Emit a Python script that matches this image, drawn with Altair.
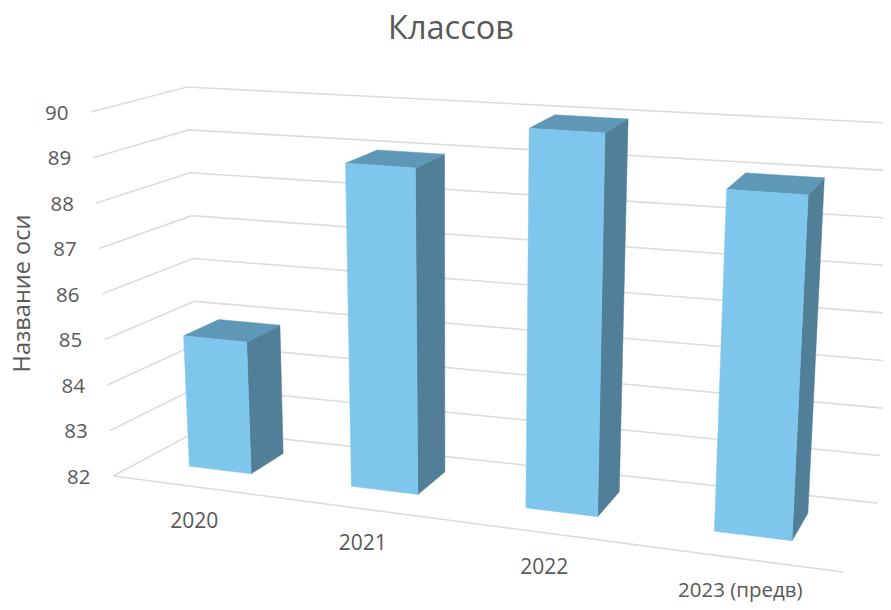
import altair as alt
import pandas as pd

title = "Классов"
axis_title = "Название оси"
categories = ["2020", "2021", "2022", "2023 (предв)"]
values = [84.9, 89, 90, 89]
ticks = [82, 83, 84, 85, 86, 87, 88, 89, 90]

V_MIN, V_MAX = 82, 90
GAP_SHARE = 0.61      # share of each category band left empty
DEPTH_FRONT, DEPTH_BACK = 0.34, 0.75  # bar extent along the depth axis
PERSP = 1.165

# Perspective camera: the 3D plot box, corners of (right, back, top)
BOX = {
    (0, 0, 0): (113, 476), (0, 0, 1): (91, 112),
    (0, 1, 0): (199, 430), (0, 1, 1): (187, 87),
    (1, 0, 0): (843, 572), (1, 0, 1): (865, 163),
    (1, 1, 0): (877, 503), (1, 1, 1): (899, 123.5),
}


def project(u, d, value):
    s = u / (PERSP + (1 - PERSP) * u)
    v = (value - V_MIN) / (V_MAX - V_MIN)
    out = [0.0, 0.0]
    for (a, b, c), p in BOX.items():
        w = (s if a else 1 - s) * (d if b else 1 - d) * (v if c else 1 - v)
        out[0] += w * p[0]
        out[1] += w * p[1]
    return out


def path_rows(rows, key, pts):
    for i, (u, d, val) in enumerate(pts):
        x, y = project(u, d, val)
        rows.append({"x": x, "y": y, "key": key, "i": i})


grid_rows = []
for t in ticks:
    path_rows(grid_rows, f"g{t}", [(0, 0, t), (0, 1, t), (1, 1, t)])
path_rows(grid_rows, "floor", [(0, 0, V_MIN), (1, 0, V_MIN)])

front, side, top = [], [], []
n = len(categories)
for idx, val in enumerate(values):
    u0 = (idx + GAP_SHARE / 2) / n
    u1 = (idx + 1 - GAP_SHARE / 2) / n
    d0, d1 = DEPTH_FRONT, DEPTH_BACK
    path_rows(front, idx, [(u0, d0, V_MIN), (u1, d0, V_MIN), (u1, d0, val), (u0, d0, val), (u0, d0, V_MIN)])
    path_rows(side, idx, [(u1, d0, V_MIN), (u1, d1, V_MIN), (u1, d1, val), (u1, d0, val), (u1, d0, V_MIN)])
    path_rows(top, idx, [(u0, d0, val), (u1, d0, val), (u1, d1, val), (u0, d1, val), (u0, d0, val)])

tick_rows = []
for t in ticks:
    x, y = project(0, 0, t)
    tick_rows.append({"x": x - 22.5, "y": y + 1.5, "label": str(t)})

cat_rows = []
for idx, c in enumerate(categories):
    x, y = project((idx + 0.5) / n, 0, V_MIN)
    cat_rows.append({"x": x + 1.5, "y": y + 35.5, "label": c})

X = alt.X("x:Q", scale=alt.Scale(domain=[8, 883], nice=False, zero=False), axis=None)
Y = alt.Y("y:Q", scale=alt.Scale(domain=[602, 8], nice=False, zero=False), axis=None)
FONT = "Open Sans"
INK = "#595959"


def poly(rows, colour):
    return alt.Chart(pd.DataFrame(rows)).mark_line(
        fill=colour, stroke=colour, strokeWidth=0.5, interpolate="linear"
    ).encode(x=X, y=Y, detail="key:N", order="i:Q")


grid = alt.Chart(pd.DataFrame(grid_rows)).mark_line(
    stroke="#DCDCDC", strokeWidth=1.6, clip=True
).encode(x=X, y=Y, detail="key:N", order="i:Q")

tick_text = alt.Chart(pd.DataFrame(tick_rows)).mark_text(
    font=FONT, fontSize=20.5, color=INK, align="right", baseline="middle"
).encode(x=X, y=Y, text="label:N")

cat_main = alt.Chart(pd.DataFrame(cat_rows[:3])).mark_text(
    font=FONT, fontSize=21, color=INK, align="center", baseline="middle"
).encode(x=X, y=Y, text="label:N")
cat_last = alt.Chart(pd.DataFrame(cat_rows[3:])).mark_text(
    font=FONT, fontSize=20.5, color=INK, align="center", baseline="middle", dy=-3
).encode(x=X, y=Y, text="label:N")

title_text = alt.Chart(pd.DataFrame({"label": [title], "x": [451], "y": [29]})).mark_text(
    font=FONT, fontSize=32.5, color=INK, align="center", baseline="middle"
).encode(x=X, y=Y, text="label:N")

axis_text = alt.Chart(pd.DataFrame({"label": [axis_title], "x": [23], "y": [293.5]})).mark_text(
    font=FONT, fontSize=23.5, color=INK, align="center", baseline="middle", angle=270
).encode(x=X, y=Y, text="label:N")

chart = alt.layer(
    grid, poly(side, "#517F97"), poly(top, "#5F98B6"), poly(front, "#7FC6EC"),
    tick_text, cat_main, cat_last, title_text, axis_text,
).properties(
    width=875, height=594, padding=0,
    autosize=alt.AutoSizeParams(type="none"),
    background="white",
).configure_view(stroke=None)

chart.save("out.html", embed_options={"renderer": "svg", "actions": False})
